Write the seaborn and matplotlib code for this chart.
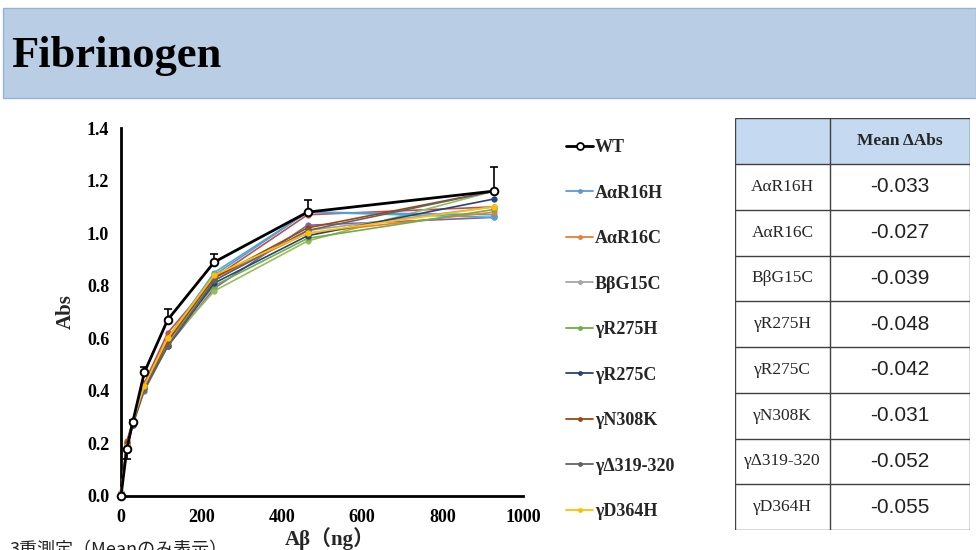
import numpy as np
import pandas as pd
import seaborn as sns
import matplotlib
matplotlib.use("Agg")
import matplotlib.pyplot as plt
from matplotlib.patches import Rectangle
from matplotlib.lines import Line2D

# ---------------- data ----------------
abeta_ng = [0, 14.5, 29, 58, 116, 232, 464, 928]

wt = [0.00, 0.18, 0.28, 0.47, 0.67, 0.89, 1.08, 1.16]
wt_err_lo = [0, 0.04, 0, 0, 0, 0, 0, 0]
wt_err_hi = [0, 0, 0.01, 0.02, 0.04, 0.03, 0.045, 0.09]

a_r16h = [0.01, 0.19, 0.28, 0.42, 0.60, 0.84, 1.08, 1.07]
a_r16c = [0.01, 0.20, 0.28, 0.42, 0.60, 0.83, 1.00, 1.08]
b_g15c = [0.01, 0.19, 0.28, 0.41, 0.58, 0.82, 1.01, 1.10]
g_r275h = [0.01, 0.19, 0.27, 0.41, 0.59, 0.80, 0.98, 1.09]
g_r275c = [0.01, 0.18, 0.27, 0.41, 0.57, 0.81, 0.99, 1.13]
g_n308k = [0.01, 0.20, 0.28, 0.42, 0.59, 0.83, 1.02, 1.16]
g_d319 = [0.01, 0.18, 0.28, 0.41, 0.57, 0.82, 1.01, 1.16]
g_d364h = [0.01, 0.19, 0.28, 0.42, 0.60, 0.84, 1.00, 1.10]
# additional series drawn in the plot but not listed in the legend
extra_red = [0.01, 0.21, 0.28, 0.43, 0.62, 0.83, 1.07, 1.10]
extra_purple = [0.01, 0.18, 0.27, 0.40, 0.57, 0.79, 1.03, 1.06]
extra_olive = [0.01, 0.19, 0.28, 0.41, 0.58, 0.78, 0.97, 1.16]
extra_teal = [0.01, 0.19, 0.28, 0.42, 0.60, 0.85, 1.08, 1.06]

legend_names = ["WT", "AαR16H", "AαR16C", "BβG15C", "γR275H", "γR275C",
                "γN308K", "γΔ319-320", "γD364H"]
mutant_values = [a_r16h, a_r16c, b_g15c, g_r275h, g_r275c, g_n308k, g_d319, g_d364h]
mutant_colors = ["#5B9BD5", "#ED7D31", "#A5A5A5", "#70AD47", "#264478",
                 "#9E480E", "#636363", "#FFC000"]
extra_values = [extra_red, extra_purple, extra_olive, extra_teal]
extra_colors = ["#C0504D", "#8064A2", "#9BBB59", "#4BACC6"]

table_names = ["AαR16H", "AαR16C", "BβG15C", "γR275H", "γR275C", "γN308K",
               "γΔ319-320", "γD364H"]
mean_dabs = ["-0.033", "-0.027", "-0.039", "-0.048", "-0.042", "-0.031",
             "-0.052", "-0.055"]

# ---------------- figure ----------------
sns.set_theme(style="white")
plt.rcParams["font.family"] = ["Liberation Serif", "Noto Sans CJK JP", "DejaVu Sans"]

fig = plt.figure(figsize=(9.76, 5.5), dpi=100)
W, H = 976, 550

def fx(px):
    return px / W

def fy(py):
    return 1 - py / H

# title banner
fig.patches.append(Rectangle((fx(3), fy(98)), fx(973), (98 - 8) / H,
                             transform=fig.transFigure, facecolor="#B9CDE5",
                             edgecolor="#95B3D7", lw=1, zorder=0))
fig.text(fx(11), fy(56), "Fibrinogen", fontsize=32, fontweight="bold",
         family=["Liberation Serif"], va="center", ha="left", color="black")

# plot axes
ax = fig.add_axes([fx(121), fy(496), fx(523 - 121), (496 - 128) / H])

handles = []
for vals, col in zip(extra_values, extra_colors):
    sns.lineplot(x=abeta_ng, y=vals, ax=ax, color=col, lw=1.2, marker="o",
                 markersize=4.5, markeredgewidth=0, clip_on=False, zorder=3)
for name, vals, col in zip(legend_names[1:], mutant_values, mutant_colors):
    sns.lineplot(x=abeta_ng, y=vals, ax=ax, color=col, lw=1.2, marker="o",
                 markersize=4.5, markeredgewidth=0, clip_on=False, zorder=3)
    handles.append(Line2D([], [], color=col, lw=1.3, marker="o", markersize=3.5,
                          markeredgewidth=0))

ax.errorbar(abeta_ng, wt, yerr=[wt_err_lo, wt_err_hi], fmt="none", ecolor="black",
            elinewidth=1.2, capsize=3, capthick=1.2, zorder=4, clip_on=False)
sns.lineplot(x=abeta_ng, y=wt, ax=ax, color="black", lw=2, marker="o",
             markersize=5.5, markerfacecolor="white", markeredgecolor="black",
             markeredgewidth=1.4, clip_on=False, zorder=5)
handles.insert(0, Line2D([], [], color="black", lw=2, marker="o", markersize=5,
                         markerfacecolor="white", markeredgecolor="black",
                         markeredgewidth=1.3))

ax.set_xlim(0, 1000)
ax.set_ylim(0, 1.4)
ax.set_xticks(np.arange(0, 1001, 200))
ax.set_yticks(np.arange(0, 1.41, 0.2))
ax.set_yticklabels([f"{v:.1f}" for v in np.arange(0, 1.41, 0.2)])
for s in ["top", "right"]:
    ax.spines[s].set_visible(False)
for s in ["left", "bottom"]:
    ax.spines[s].set_color("black")
    ax.spines[s].set_linewidth(2)
ax.tick_params(axis="both", direction="out", length=5, width=1.5, colors="black",
               labelsize=13)
ax.tick_params(axis="x", pad=4)
for lab in ax.get_xticklabels() + ax.get_yticklabels():
    lab.set_fontweight("bold")
ax.set_xlabel("Aβ（ng）", fontsize=15, fontweight="bold", labelpad=0)
ax.xaxis.set_label_coords(0.52, -0.085)
ax.set_ylabel("Abs", fontsize=15, fontweight="bold", labelpad=8)

# legend
leg = fig.legend(handles, legend_names, loc="upper left",
                 bbox_to_anchor=(fx(566), fy(139)), frameon=False,
                 prop={"family": ["Liberation Serif"], "weight": "bold", "size": 13},
                 labelspacing=1.58, handlelength=1.5, handletextpad=0.1,
                 borderaxespad=0, borderpad=0)

# table
tab = fig.add_axes([fx(735), fy(530), fx(970 - 735), (530 - 118) / H])
tab.set_xlim(0, 235)
tab.set_ylim(412, 0)
tab.axis("off")
col_split = 95
header_h = 46
row_h = (412 - header_h) / len(table_names)
tab.add_patch(Rectangle((0, 0), 235, header_h, facecolor="#C5D9F1", edgecolor="none"))
tab.text(col_split + (235 - col_split) / 2, header_h / 2, "Mean ΔAbs", ha="center",
         va="center", fontsize=12.5, fontweight="bold", family=["Liberation Serif"])
for i, (n, v) in enumerate(zip(table_names, mean_dabs)):
    yc = header_h + row_h * (i + 0.5)
    tab.text(col_split / 2, yc, n, ha="center", va="center", fontsize=12.5,
             family=["Liberation Serif"])
    tab.text(col_split + (235 - col_split) / 2, yc, v, ha="center", va="center",
             fontsize=15, family=["Liberation Sans"], color="#222222")
grid_kw = dict(color="#404040", lw=1, solid_capstyle="butt")
for i in range(len(table_names) + 2):
    y = 0 if i == 0 else header_h + row_h * (i - 1)
    tab.plot([0, 235], [y, y], **grid_kw)
for x in [0, col_split, 235]:
    tab.plot([x, x], [0, 412], **grid_kw)

# footnote (cut at the bottom edge in the reference)
fig.text(fx(10), fy(555), "3重測定（Meanのみ表示）", fontsize=13,
         family=["Noto Sans CJK JP"], ha="left", va="baseline", color="#222222")

fig.savefig("out.png", dpi=100)
